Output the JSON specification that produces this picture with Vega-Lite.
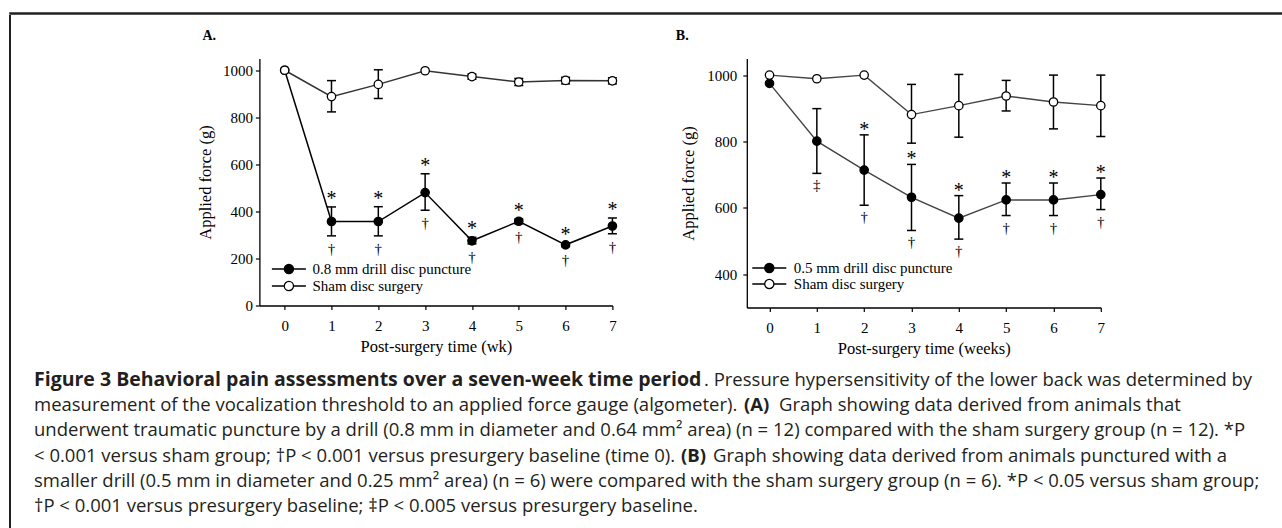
{
  "$schema": "https://vega.github.io/schema/vega-lite/v6.json",
  "padding": {"left": 9, "top": 12, "right": 0, "bottom": 0},
  "autosize": {"type": "pad"},
  "background": "white",
  "config": {
    "view": {"stroke": null},
    "font": "Liberation Serif",
    "axis": {"grid": false, "domainColor": "#000", "domainWidth": 1.3, "tickColor": "#000", "tickWidth": 1.2, "tickSize": 4, "labelFont": "Liberation Serif", "labelFontSize": 15, "labelColor": "#000", "labelFlush": false, "labelPadding": 3, "titleFont": "Liberation Serif", "titleFontSize": 16.5, "titleFontWeight": "normal", "titleColor": "#000"},
    "axisX": {"labelPadding": 9, "titlePadding": 5},
    "axisY": {"titlePadding": 9}
  },
  "datasets": {
    "a": [
      {"week": 0, "group": "0.8 mm drill disc puncture", "value": 1000, "lo": 1000, "hi": 1000, "star": false, "dag": ""},
      {"week": 1, "group": "0.8 mm drill disc puncture", "value": 357, "lo": 296, "hi": 419, "star": true, "dag": "†"},
      {"week": 2, "group": "0.8 mm drill disc puncture", "value": 357, "lo": 296, "hi": 420, "star": true, "dag": "†"},
      {"week": 3, "group": "0.8 mm drill disc puncture", "value": 480, "lo": 405, "hi": 560, "star": true, "dag": "†"},
      {"week": 4, "group": "0.8 mm drill disc puncture", "value": 275, "lo": 262, "hi": 290, "star": true, "dag": "†"},
      {"week": 5, "group": "0.8 mm drill disc puncture", "value": 358, "lo": 348, "hi": 368, "star": true, "dag": "†"},
      {"week": 6, "group": "0.8 mm drill disc puncture", "value": 258, "lo": 250, "hi": 266, "star": true, "dag": "†"},
      {"week": 7, "group": "0.8 mm drill disc puncture", "value": 338, "lo": 305, "hi": 372, "star": true, "dag": "†"},
      {"week": 0, "group": "Sham disc surgery", "value": 1000, "lo": 1000, "hi": 1000, "star": false, "dag": ""},
      {"week": 1, "group": "Sham disc surgery", "value": 888, "lo": 823, "hi": 956, "star": false, "dag": ""},
      {"week": 2, "group": "Sham disc surgery", "value": 940, "lo": 880, "hi": 1002, "star": false, "dag": ""},
      {"week": 3, "group": "Sham disc surgery", "value": 998, "lo": 998, "hi": 998, "star": false, "dag": ""},
      {"week": 4, "group": "Sham disc surgery", "value": 973, "lo": 962, "hi": 984, "star": false, "dag": ""},
      {"week": 5, "group": "Sham disc surgery", "value": 950, "lo": 935, "hi": 965, "star": false, "dag": ""},
      {"week": 6, "group": "Sham disc surgery", "value": 957, "lo": 942, "hi": 970, "star": false, "dag": ""},
      {"week": 7, "group": "Sham disc surgery", "value": 955, "lo": 942, "hi": 968, "star": false, "dag": ""}
    ],
    "b": [
      {"week": 0, "group": "0.5 mm drill disc puncture", "value": 975, "lo": 975, "hi": 975, "star": false, "dag": ""},
      {"week": 1, "group": "0.5 mm drill disc puncture", "value": 801, "lo": 704, "hi": 899, "star": false, "dag": "‡"},
      {"week": 2, "group": "0.5 mm drill disc puncture", "value": 714, "lo": 608, "hi": 820, "star": true, "dag": "†"},
      {"week": 3, "group": "0.5 mm drill disc puncture", "value": 632, "lo": 532, "hi": 731, "star": true, "dag": "†"},
      {"week": 4, "group": "0.5 mm drill disc puncture", "value": 569, "lo": 506, "hi": 637, "star": true, "dag": "†"},
      {"week": 5, "group": "0.5 mm drill disc puncture", "value": 624, "lo": 577, "hi": 675, "star": true, "dag": "†"},
      {"week": 6, "group": "0.5 mm drill disc puncture", "value": 624, "lo": 577, "hi": 675, "star": true, "dag": "†"},
      {"week": 7, "group": "0.5 mm drill disc puncture", "value": 640, "lo": 595, "hi": 690, "star": true, "dag": "†"},
      {"week": 0, "group": "Sham disc surgery", "value": 1000, "lo": 1000, "hi": 1000, "star": false, "dag": ""},
      {"week": 1, "group": "Sham disc surgery", "value": 989, "lo": 989, "hi": 989, "star": false, "dag": ""},
      {"week": 2, "group": "Sham disc surgery", "value": 1000, "lo": 1000, "hi": 1000, "star": false, "dag": ""},
      {"week": 3, "group": "Sham disc surgery", "value": 881, "lo": 795, "hi": 972, "star": false, "dag": ""},
      {"week": 4, "group": "Sham disc surgery", "value": 908, "lo": 813, "hi": 1002, "star": false, "dag": ""},
      {"week": 5, "group": "Sham disc surgery", "value": 937, "lo": 892, "hi": 984, "star": false, "dag": ""},
      {"week": 6, "group": "Sham disc surgery", "value": 919, "lo": 838, "hi": 1000, "star": false, "dag": ""},
      {"week": 7, "group": "Sham disc surgery", "value": 908, "lo": 815, "hi": 1000, "star": false, "dag": ""}
    ],
    "cap": [
      {"line": 1, "seg": "b0", "text": "Figure 3 Behavioral pain assessments over a seven-week time period"},
      {"line": 1, "seg": "n1", "text": ". Pressure hypersensitivity of the lower back was determined by"},
      {"line": 2, "seg": "n0", "text": "measurement of the vocalization threshold to an applied force gauge (algometer)."},
      {"line": 2, "seg": "bA", "text": "(A)"},
      {"line": 2, "seg": "nA", "text": "Graph showing data derived from animals that"},
      {"line": 3, "seg": "n0", "text": "underwent traumatic puncture by a drill (0.8 mm in diameter and 0.64 mm² area) (n = 12) compared with the sham surgery group (n = 12). *P"},
      {"line": 4, "seg": "n0", "text": "< 0.001 versus sham group; †P < 0.001 versus presurgery baseline (time 0)."},
      {"line": 4, "seg": "bB", "text": "(B)"},
      {"line": 4, "seg": "nB", "text": "Graph showing data derived from animals punctured with a"},
      {"line": 5, "seg": "n0", "text": "smaller drill (0.5 mm in diameter and 0.25 mm² area) (n = 6) were compared with the sham surgery group (n = 6). *P < 0.05 versus sham group;"},
      {"line": 6, "seg": "n0", "text": "†P < 0.001 versus presurgery baseline; ‡P < 0.005 versus presurgery baseline."}
    ],
    "empty": []
  },
  "spacing": 0,
  "vconcat": [
    {"width": 1273, "height": 1, "data": {"name": "empty"}, "mark": "point", "view": {"stroke": "#231f20", "strokeWidth": 1.5}},
    {
      "spacing": 22,
      "hconcat": [
        {"width": 0.01, "height": 520, "data": {"name": "empty"}, "mark": "point", "view": {"stroke": "#231f20", "strokeWidth": 2}},
        {
          "spacing": 11.5,
          "vconcat": [
            {"width": 10, "height": 0.01, "data": {"name": "empty"}, "mark": "point"},
            {
              "spacing": 56.4,
              "resolve": {"scale": {"fill": "independent"}, "legend": {"fill": "independent"}},
              "hconcat": [
                {"width": 106.2, "height": 10, "data": {"name": "empty"}, "mark": "point"},
                {
                  "width": 353, "height": 247,
                  "data": {"name": "a"},
                  "title": {"text": "A.", "anchor": "start", "frame": "group", "dx": -57, "offset": 16, "font": "Liberation Serif", "fontSize": 14, "fontWeight": "bold", "color": "#000"},
                  "encoding": {
                    "x": {"field": "week", "type": "quantitative", "scale": {"domain": [-0.54, 7], "nice": false, "zero": false}, "axis": {"values": [0, 1, 2, 3, 4, 5, 6, 7], "format": "d", "title": "Post-surgery time (wk)"}}
                  },
                  "layer": [
                    {"transform": [{"filter": "datum.hi > datum.lo"}], "mark": {"type": "rule", "color": "#000", "strokeWidth": 1.5},
                     "encoding": {"y": {"field": "lo", "type": "quantitative", "scale": {"domain": [0, 1050], "nice": false}, "axis": {"values": [0, 200, 400, 600, 800, 1000], "format": "d", "title": "Applied force (g)"}}, "y2": {"field": "hi"}}},
                    {"transform": [{"filter": "datum.hi > datum.lo"}], "mark": {"type": "tick", "orient": "horizontal", "size": 9, "thickness": 1.5, "color": "#000", "opacity": 1},
                     "encoding": {"y": {"field": "lo", "type": "quantitative", "scale": {"domain": [0, 1050], "nice": false}, "axis": {"values": [0, 200, 400, 600, 800, 1000], "format": "d", "title": "Applied force (g)"}}}},
                    {"transform": [{"filter": "datum.hi > datum.lo"}], "mark": {"type": "tick", "orient": "horizontal", "size": 9, "thickness": 1.5, "color": "#000", "opacity": 1},
                     "encoding": {"y": {"field": "hi", "type": "quantitative", "scale": {"domain": [0, 1050], "nice": false}, "axis": {"values": [0, 200, 400, 600, 800, 1000], "format": "d", "title": "Applied force (g)"}}}},
                    {"mark": {"type": "line", "strokeWidth": 1.5},
                     "encoding": {"y": {"field": "value", "type": "quantitative", "scale": {"domain": [0, 1050], "nice": false}, "axis": {"values": [0, 200, 400, 600, 800, 1000], "format": "d", "title": "Applied force (g)"}}, "detail": {"field": "group"}, "color": {"condition": {"test": "datum.group === 'Sham disc surgery'", "value": "#333"}, "value": "#000"}}},
                    {"mark": {"type": "circle", "size": 70, "stroke": "#000", "strokeWidth": 1.3, "opacity": 1},
                     "encoding": {"y": {"field": "value", "type": "quantitative", "scale": {"domain": [0, 1050], "nice": false}, "axis": {"values": [0, 200, 400, 600, 800, 1000], "format": "d", "title": "Applied force (g)"}},
                       "fill": {"field": "group", "type": "nominal", "scale": {"domain": ["0.8 mm drill disc puncture", "Sham disc surgery"], "range": ["#000", "#fff"]},
                         "legend": {"title": null, "orient": "bottom-left", "offset": 11, "padding": 0, "symbolType": "M-1.2,0H1.28M1.28,0A0.92,0.92,0,1,1,3.12,0A0.92,0.92,0,1,1,1.28,0M3.12,0H5.6", "symbolSize": 100, "symbolStrokeColor": "#000", "symbolStrokeWidth": 1.3, "labelFont": "Liberation Serif", "labelFontSize": 15, "labelColor": "#000", "labelOffset": 27, "rowPadding": 1}}}},
                    {"transform": [{"filter": "datum.star"}], "mark": {"type": "text", "text": "*", "font": "Liberation Serif", "fontSize": 20, "baseline": "middle", "dy": -8, "color": "#000"},
                     "encoding": {"y": {"field": "hi", "type": "quantitative", "scale": {"domain": [0, 1050], "nice": false}, "axis": {"values": [0, 200, 400, 600, 800, 1000], "format": "d", "title": "Applied force (g)"}}}},
                    {"transform": [{"filter": "datum.dag != ''"}], "mark": {"type": "text", "font": "Liberation Serif", "fontSize": 15, "baseline": "middle", "dy": 13, "color": "#000"},
                     "encoding": {"y": {"field": "lo", "type": "quantitative", "scale": {"domain": [0, 1050], "nice": false}, "axis": {"values": [0, 200, 400, 600, 800, 1000], "format": "d", "title": "Applied force (g)"}}, "text": {"field": "dag"}}}
                  ]
                },
                {
                  "width": 354, "height": 249,
                  "data": {"name": "b"},
                  "title": {"text": "B.", "anchor": "start", "frame": "group", "dx": -71, "offset": 16, "font": "Liberation Serif", "fontSize": 14, "fontWeight": "bold", "color": "#000"},
                  "encoding": {
                    "x": {"field": "week", "type": "quantitative", "scale": {"domain": [-0.48, 7], "nice": false, "zero": false}, "axis": {"values": [0, 1, 2, 3, 4, 5, 6, 7], "format": "d", "title": "Post-surgery time (weeks)"}}
                  },
                  "layer": [
                    {"transform": [{"filter": "datum.hi > datum.lo"}], "mark": {"type": "rule", "color": "#000", "strokeWidth": 1.5},
                     "encoding": {"y": {"field": "lo", "type": "quantitative", "scale": {"domain": [300, 1050], "nice": false, "zero": false}, "axis": {"values": [400, 600, 800, 1000], "format": "d", "labelPadding": 6, "titlePadding": 10, "title": "Applied force (g)"}}, "y2": {"field": "hi"}}},
                    {"transform": [{"filter": "datum.hi > datum.lo"}], "mark": {"type": "tick", "orient": "horizontal", "size": 9, "thickness": 1.5, "color": "#000", "opacity": 1},
                     "encoding": {"y": {"field": "lo", "type": "quantitative", "scale": {"domain": [300, 1050], "nice": false, "zero": false}, "axis": {"values": [400, 600, 800, 1000], "format": "d", "labelPadding": 6, "titlePadding": 10, "title": "Applied force (g)"}}}},
                    {"transform": [{"filter": "datum.hi > datum.lo"}], "mark": {"type": "tick", "orient": "horizontal", "size": 9, "thickness": 1.5, "color": "#000", "opacity": 1},
                     "encoding": {"y": {"field": "hi", "type": "quantitative", "scale": {"domain": [300, 1050], "nice": false, "zero": false}, "axis": {"values": [400, 600, 800, 1000], "format": "d", "labelPadding": 6, "titlePadding": 10, "title": "Applied force (g)"}}}},
                    {"mark": {"type": "line", "strokeWidth": 1.4},
                     "encoding": {"y": {"field": "value", "type": "quantitative", "scale": {"domain": [300, 1050], "nice": false, "zero": false}, "axis": {"values": [400, 600, 800, 1000], "format": "d", "labelPadding": 6, "titlePadding": 10, "title": "Applied force (g)"}}, "detail": {"field": "group"}, "color": {"value": "#444"}}},
                    {"mark": {"type": "circle", "size": 70, "stroke": "#000", "strokeWidth": 1.3, "opacity": 1},
                     "encoding": {"y": {"field": "value", "type": "quantitative", "scale": {"domain": [300, 1050], "nice": false, "zero": false}, "axis": {"values": [400, 600, 800, 1000], "format": "d", "labelPadding": 6, "titlePadding": 10, "title": "Applied force (g)"}},
                       "fill": {"field": "group", "type": "nominal", "scale": {"domain": ["0.5 mm drill disc puncture", "Sham disc surgery"], "range": ["#000", "#fff"]},
                         "legend": {"title": null, "orient": "bottom-left", "offset": 15, "padding": 0, "symbolType": "M-3.4,0H-0.92M-0.92,0A0.92,0.92,0,1,1,0.92,0A0.92,0.92,0,1,1,-0.92,0M0.92,0H3.4", "symbolSize": 100, "symbolStrokeColor": "#000", "symbolStrokeWidth": 1.3, "labelFont": "Liberation Serif", "labelFontSize": 15, "labelColor": "#000", "labelOffset": 17, "rowPadding": 0}}}},
                    {"transform": [{"filter": "datum.star"}], "mark": {"type": "text", "text": "*", "font": "Liberation Serif", "fontSize": 20, "baseline": "middle", "dy": -5, "color": "#000"},
                     "encoding": {"y": {"field": "hi", "type": "quantitative", "scale": {"domain": [300, 1050], "nice": false, "zero": false}, "axis": {"values": [400, 600, 800, 1000], "format": "d", "labelPadding": 6, "titlePadding": 10, "title": "Applied force (g)"}}}},
                    {"transform": [{"filter": "datum.dag != ''"}], "mark": {"type": "text", "font": "Liberation Serif", "fontSize": 15, "baseline": "middle", "dy": 12, "color": "#000"},
                     "encoding": {"y": {"field": "lo", "type": "quantitative", "scale": {"domain": [300, 1050], "nice": false, "zero": false}, "axis": {"values": [400, 600, 800, 1000], "format": "d", "labelPadding": 6, "titlePadding": 10, "title": "Applied force (g)"}}, "text": {"field": "dag"}}}
                  ]
                }
              ]
            },
            {
              "width": 1230, "height": 148,
              "data": {"name": "cap"},
              "encoding": {
                "y": {"field": "line", "type": "ordinal", "scale": {"type": "point", "padding": 0.437}, "axis": null},
                "x": {"value": 0},
                "text": {"field": "text"}
              },
              "layer": [
                {"transform": [{"filter": "datum.seg == 'n0'"}], "mark": {"type": "text", "align": "left", "baseline": "middle", "font": "Open Sans", "fontSize": 18.5, "color": "#231f20"}},
                {"transform": [{"filter": "datum.seg == 'b0'"}], "mark": {"type": "text", "align": "left", "baseline": "middle", "font": "Open Sans", "fontSize": 19.5, "fontWeight": "bold", "color": "#231f20"}},
                {"transform": [{"filter": "datum.seg == 'n1'"}], "mark": {"type": "text", "align": "left", "baseline": "middle", "font": "Open Sans", "fontSize": 18.5, "dx": 670, "color": "#231f20"}},
                {"transform": [{"filter": "datum.seg == 'bA'"}], "mark": {"type": "text", "align": "left", "baseline": "middle", "font": "Open Sans", "fontSize": 18.5, "fontWeight": "bold", "dx": 710, "color": "#231f20"}},
                {"transform": [{"filter": "datum.seg == 'nA'"}], "mark": {"type": "text", "align": "left", "baseline": "middle", "font": "Open Sans", "fontSize": 18.5, "dx": 745, "color": "#231f20"}},
                {"transform": [{"filter": "datum.seg == 'bB'"}], "mark": {"type": "text", "align": "left", "baseline": "middle", "font": "Open Sans", "fontSize": 18.5, "fontWeight": "bold", "dx": 647, "color": "#231f20"}},
                {"transform": [{"filter": "datum.seg == 'nB'"}], "mark": {"type": "text", "align": "left", "baseline": "middle", "font": "Open Sans", "fontSize": 18.5, "dx": 679, "color": "#231f20"}}
              ]
            }
          ]
        }
      ]
    }
  ]
}
